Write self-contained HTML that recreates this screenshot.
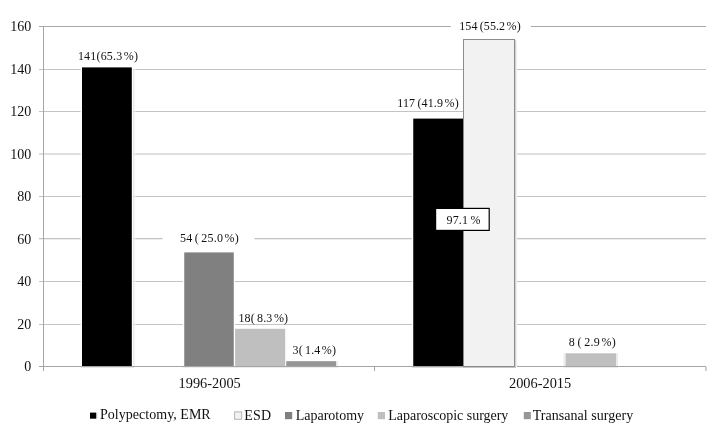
<!DOCTYPE html>
<html><head><meta charset="utf-8"><title>Chart</title>
<style>
html,body{margin:0;padding:0;background:#fff;}
svg{display:block}
text{font-family:"Liberation Serif",serif;fill:#111;}
.ax{font-size:14px}
.lb{font-size:12px;word-spacing:-0.9px}
.lg{font-size:14px}
</style></head><body>
<svg width="720" height="429" viewBox="0 0 720 429">
<defs>
<linearGradient id="sh" x1="0" x2="1" y1="0" y2="0"><stop offset="0" stop-color="#d8d8d8"/><stop offset="1" stop-color="#ffffff"/></linearGradient>
</defs>
<rect width="720" height="429" fill="#fff"/>
<g fill="#c3c3c3" shape-rendering="crispEdges">
<rect x="39" y="26" width="667" height="1" fill="#a8a8a8"/>
<rect x="39" y="69" width="667" height="1"/>
<rect x="39" y="111" width="667" height="1"/>
<rect x="39" y="153" width="667" height="2" fill="#dfdfdf"/>
<rect x="39" y="196" width="667" height="1"/>
<rect x="39" y="238" width="667" height="1"/>
<rect x="39" y="239" width="667" height="1" fill="#ededed"/>
<rect x="39" y="281" width="667" height="1"/>
<rect x="39" y="324" width="667" height="1"/>
</g>
<g fill="#a5a5a5" shape-rendering="crispEdges">
<rect x="39" y="366" width="667" height="1"/>
<rect x="43" y="26" width="1" height="345"/>
<rect x="374" y="366" width="1" height="5"/>
<rect x="705" y="367" width="2" height="4" fill="#cfcfcf"/>
</g>
<!-- label backgrounds -->
<rect x="162.5" y="232" width="92" height="14" fill="#fff"/>
<rect x="450.8" y="20" width="80" height="14" fill="#fff"/>
<!-- bars -->
<g>
<rect x="80.6" y="66" width="52.6" height="300" fill="#fff"/>
<rect x="133.2" y="69" width="2.5" height="297" fill="url(#sh)" opacity="0.6"/>
<rect x="82" y="67.4" width="49.8" height="298.6" fill="#000"/>

<rect x="182.8" y="251" width="52.3" height="115" fill="#fff"/>
<rect x="184.25" y="252.4" width="49.5" height="113.6" fill="#808080"/>
<rect x="235.1" y="328.8" width="49.9" height="37.2" fill="#bfbfbf"/>
<rect x="285" y="359.8" width="52.6" height="6.2" fill="#fff"/>
<rect x="285" y="328" width="1.3" height="38" fill="#f4f4f4"/>
<rect x="286.25" y="361.2" width="50" height="4.8" fill="#969696"/>
<rect x="336.25" y="361.2" width="1.6" height="4.8" fill="#e8e8e8"/>

<rect x="411.8" y="117" width="52" height="249" fill="#fff"/>
<rect x="413.25" y="118.6" width="50" height="247.4" fill="#000"/>
<rect x="515" y="40" width="1" height="327" fill="#d2d2d2"/><rect x="516" y="41" width="1" height="326" fill="#f0f0f0"/>
<rect x="463.5" y="39.5" width="51" height="327" fill="#f2f2f2" stroke="#8c8c8c" stroke-width="1"/>
<rect x="463" y="367" width="53" height="1" fill="#c4c4c4"/>
<rect x="412" y="367" width="51" height="1" fill="#dadada"/>
<rect x="81" y="367" width="53" height="1" fill="#e6e6e6"/>
<rect x="183" y="367" width="155" height="1" fill="#ececec"/>
<rect x="564" y="367" width="54" height="1" fill="#ececec"/>

<rect x="563.4" y="352" width="54.4" height="14" fill="#fff"/>
<rect x="563.6" y="353.3" width="2.4" height="12.7" fill="#ebebeb"/>
<rect x="565.75" y="353.3" width="50.5" height="12.7" fill="#bfbfbf"/>
<rect x="616.25" y="353.3" width="1.6" height="12.7" fill="#e8e8e8"/>

<rect x="435.6" y="208.4" width="53.6" height="22" fill="#fff" stroke="#000" stroke-width="1.2"/>
</g>
<g class="ax" text-anchor="end">
<text x="31.3" y="31">160</text>
<text x="31.3" y="74">140</text>
<text x="31.3" y="116">120</text>
<text x="31.3" y="158.5">100</text>
<text x="31.3" y="201">80</text>
<text x="31.3" y="243.5">60</text>
<text x="31.3" y="286">40</text>
<text x="31.3" y="329">20</text>
<text x="31.3" y="371">0</text>
</g>
<g class="ax" style="font-size:14.2px">
<text x="178.6" y="388.3" textLength="62.2" lengthAdjust="spacingAndGlyphs">1996-2005</text>
<text x="509" y="388.3" textLength="62.2" lengthAdjust="spacingAndGlyphs">2006-2015</text>
</g>
<g class="lb">
<text x="77.9" y="60" textLength="60.1">141(65.3<tspan dx="1.4">%</tspan>)</text>
<text x="180" y="242" textLength="58.7">54 ( 25.0<tspan dx="1.4">%</tspan>)</text>
<text x="238.5" y="322.3" textLength="49.5">18( 8.3<tspan dx="1.4">%</tspan>)</text>
<text x="292.5" y="353.7" textLength="43.5">3( 1.4<tspan dx="1.4">%</tspan>)</text>
<text x="397.2" y="107.2" textLength="61.5">117 (41.9<tspan dx="1.4">%</tspan>)</text>
<text x="459.2" y="29.6" textLength="61.5">154 (55.2<tspan dx="1.4">%</tspan>)</text>
<text x="446.5" y="223.6" textLength="34" fill="#222">97.1 %</text>
<text x="568.8" y="346.2" textLength="47">8 ( 2.9<tspan dx="1.4">%</tspan>)</text>
</g>
<g>
<rect x="96.2" y="412.6" width="1.3" height="6.1" fill="#dcdcdc"/>
<rect x="90" y="412.6" width="6.2" height="6.1" fill="#000"/>
<rect x="234.6" y="411.9" width="7.1" height="7.4" fill="#f2f2f2" stroke="#b4b4b4" stroke-width="1"/>
<rect x="285" y="412" width="7.2" height="7.2" fill="#808080"/>
<rect x="377.8" y="412" width="7.2" height="7.2" fill="#bfbfbf"/>
<rect x="523.8" y="412" width="7" height="7.2" fill="#969696"/>
</g>
<g class="lg">
<text x="100" y="418.8" textLength="110.7">Polypectomy, EMR</text>
<text x="244.3" y="420.3" textLength="26.7">ESD</text>
<text x="295.7" y="420.3" textLength="68.3">Laparotomy</text>
<text x="388.3" y="420.3" textLength="120">Laparoscopic surgery</text>
<text x="532.7" y="420.3" textLength="100.6">Transanal surgery</text>
</g>
</svg>
</body></html>
